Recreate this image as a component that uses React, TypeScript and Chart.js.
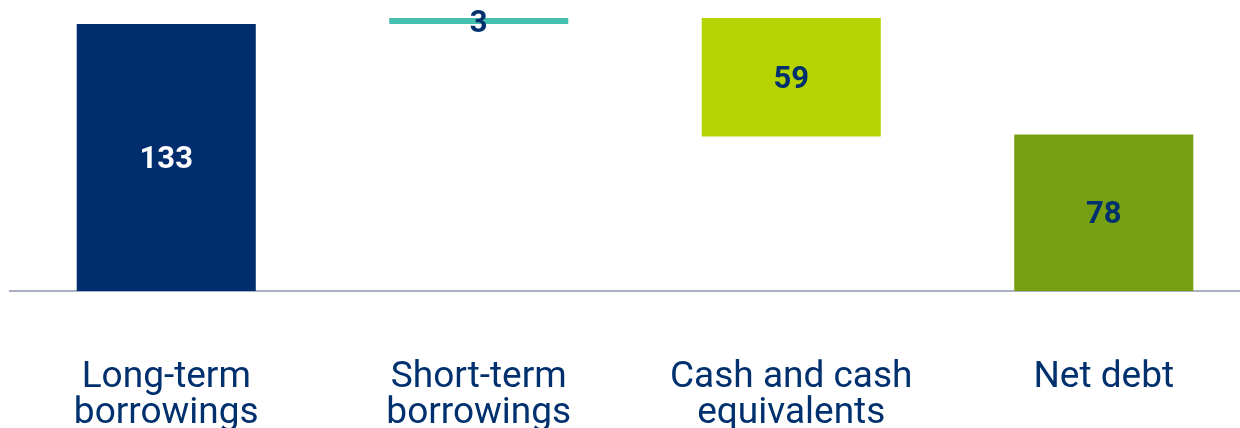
import React, { useEffect, useRef } from "react";
import { Chart, registerables } from "chart.js";

Chart.register(...registerables);

// Net debt bridge (waterfall): each step is a floating bar [start, end]
const categories: string[][] = [
  ["Long-term", "borrowings"],
  ["Short-term", "borrowings"],
  ["Cash and cash", "equivalents"],
  ["Net debt"],
];
const stepValues: number[] = [133, 3, -59, 78];
const stepLabels: string[] = ["133", "3", "59", "78"];
const barColors: string[] = ["#002d6e", "#45bfb0", "#b5d300", "#76a012"];
const labelColors: string[] = ["#ffffff", "#00306e", "#00306e", "#00306e"];

// Build floating ranges: running total for the changes, a full bar for the total
function buildRanges(): [number, number][] {
  const out: [number, number][] = [];
  let running = 0;
  stepValues.forEach((v, i) => {
    if (i === stepValues.length - 1) {
      out.push([0, v]);
    } else {
      const start = running;
      running += v;
      out.push(v >= 0 ? [start, running] : [running, start]);
    }
  });
  return out;
}

const FONT = "Roboto, 'Open Sans', sans-serif";

const valueLabelPlugin = {
  id: "valueLabels",
  afterDatasetsDraw(chart: any) {
    const ctx = chart.ctx;
    const meta = chart.getDatasetMeta(0);
    ctx.save();
    ctx.font = `bold 31px ${FONT}`;
    ctx.textAlign = "center";
    ctx.textBaseline = "middle";
    meta.data.forEach((bar: any, i: number) => {
      const { x, y, base } = bar.getProps(["x", "y", "base"], true);
      ctx.fillStyle = labelColors[i];
      ctx.fillText(stepLabels[i], x, (y + base) / 2 + 3);
    });
    ctx.restore();
  },
};

export default function App() {
  const canvasRef = useRef<HTMLCanvasElement | null>(null);

  useEffect(() => {
    if (!canvasRef.current) return;
    const chart = new Chart(canvasRef.current, {
      type: "bar",
      data: {
        labels: categories,
        datasets: [
          {
            data: buildRanges() as any,
            backgroundColor: barColors,
            borderWidth: 0,
            borderSkipped: false,
            categoryPercentage: 1,
            barPercentage: 0.573,
          },
        ],
      },
      options: {
        animation: false,
        responsive: false,
        maintainAspectRatio: false,
        layout: { padding: { left: 10, right: 10, top: 0, bottom: 0 } },
        plugins: {
          legend: { display: false },
          tooltip: { enabled: false },
        },
        scales: {
          x: {
            grid: { display: false },
            border: { display: true, color: "#aab0c2", width: 2 },
            ticks: {
              color: "#00306e",
              font: { family: FONT, size: 37, lineHeight: 0.97 },
              padding: 61,
              maxRotation: 0,
              autoSkip: false,
            },
            afterFit(scale: any) {
              scale.height = 137;
            },
          },
          y: {
            display: false,
            min: 0,
            max: 145,
          },
        },
      },
      plugins: [valueLabelPlugin],
    });
    return () => chart.destroy();
  }, []);

  return (
    <div
      style={{
        position: "fixed",
        left: 0,
        top: 0,
        width: 1240,
        height: 428,
        overflow: "hidden",
        background: "#ffffff",
      }}
    >
      <canvas ref={canvasRef} width={1270} height={428} style={{ display: "block" }} />
    </div>
  );
}
